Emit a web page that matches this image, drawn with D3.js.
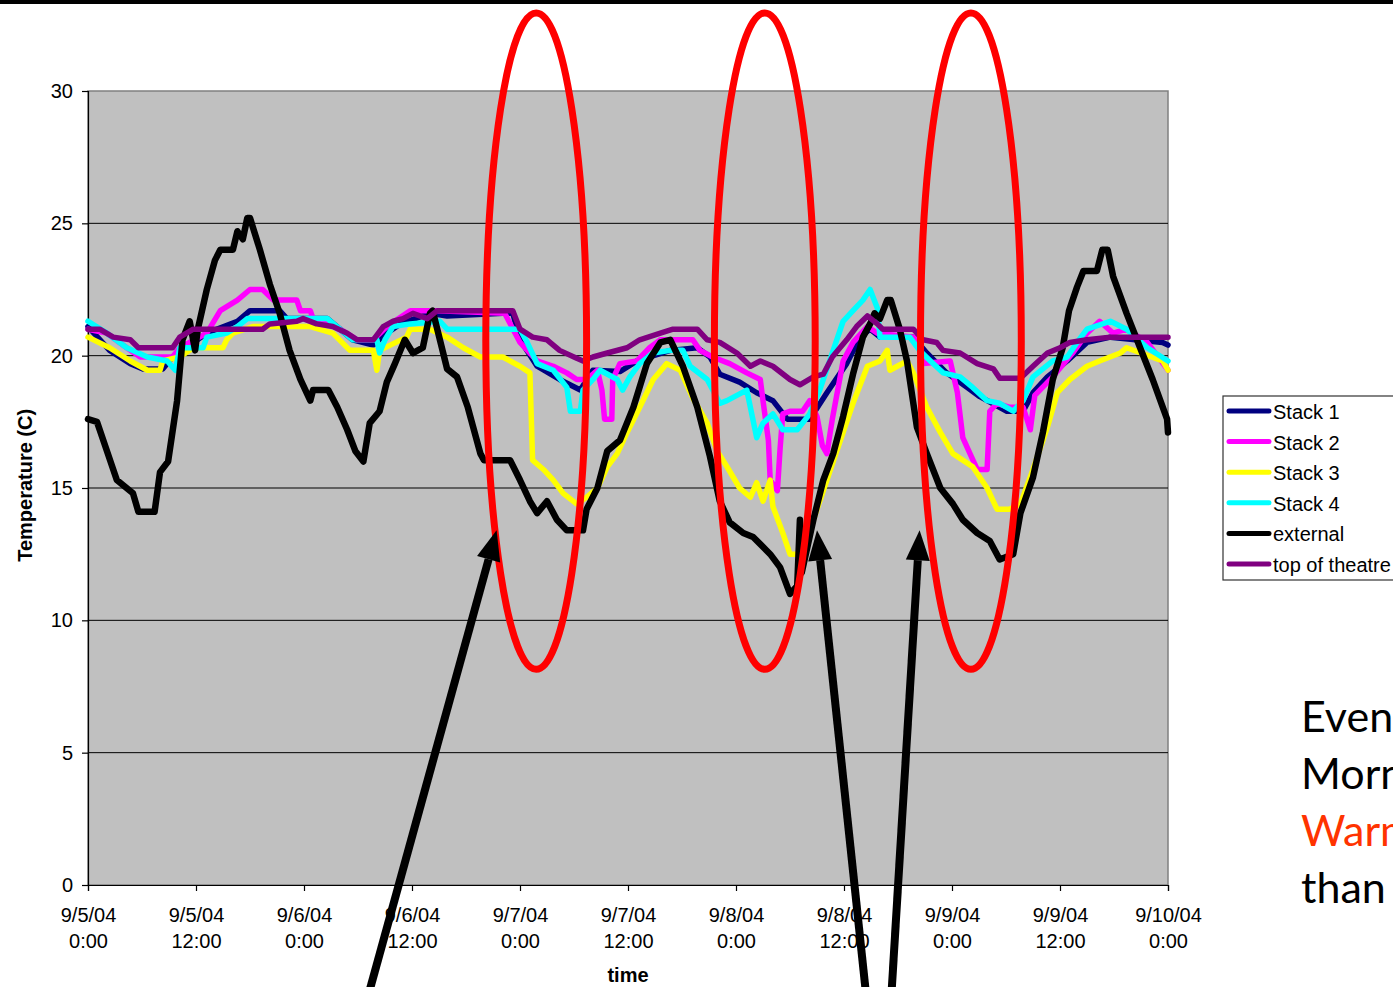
<!DOCTYPE html>
<html>
<head>
<meta charset="utf-8">
<script src="https://cdn.jsdelivr.net/npm/d3@7"></script>
<style>
  body { margin: 0; background: #fff; overflow: hidden; }
  svg { display: block; }
</style>
</head>
<body>
<svg id="svg" width="1393" height="987"></svg>
<script>
// x values are hours after 9/5/04 0:00, y values are degrees C
const tickHours = [0, 12, 24, 36, 48, 60, 72, 84, 96, 108, 120];
const tickDates = ['9/5/04', '9/5/04', '9/6/04', '9/6/04', '9/7/04', '9/7/04', '9/8/04', '9/8/04', '9/9/04', '9/9/04', '9/10/04'];
const tickTimes = ['0:00', '12:00', '0:00', '12:00', '0:00', '12:00', '0:00', '12:00', '0:00', '12:00', '0:00'];
const tempTicks = [0, 5, 10, 15, 20, 25, 30];

const seriesNames = ['Stack 1', 'Stack 2', 'Stack 3', 'Stack 4', 'external', 'top of theatre'];
const seriesColours = ['#000080', '#ff00ff', '#ffff00', '#00ffff', '#000000', '#800080'];

const stack1 = [[0,21.1],[2.4,20.2],[4.7,19.7],[6.1,19.5],[8.3,19.5],[9.4,19.95],[13.2,20.85],[16.6,21.3],[18,21.7],[21.3,21.7],[22.1,21.4],[26.6,21.4],[28,21.0],[29.4,20.6],[31.7,20.4],[33,20.8],[34.7,21.2],[38,21.6],[39.9,21.5],[46.1,21.6],[47.2,21.6],[48,20.6],[49.9,19.6],[52.4,19.1],[54.7,18.7],[56.1,19.45],[59.1,19.4],[61,19.8],[64.7,20.2],[67.7,20.3],[69.1,19.95],[70.2,19.3],[72.4,19.0],[74.3,18.6],[76.1,18.3],[77.7,17.6],[80.2,17.6],[82.1,18.6],[84.3,19.7],[85.8,20.7],[86.9,21.0],[88,20.7],[91.7,20.7],[93.2,20.1],[95.4,19.35],[97.7,18.8],[99.1,18.45],[102.1,17.9],[103.9,17.9],[105,18.6],[106.6,19.2],[108.8,19.8],[111,20.5],[113.6,20.7],[119.4,20.5],[120,20.4]];

const stack2 = [[0,21.0],[2.1,20.85],[4.3,20.3],[5.8,19.95],[9.4,19.95],[10.2,20.3],[13.2,20.85],[14.7,21.7],[16.6,22.1],[18,22.5],[19.4,22.5],[20.6,22.1],[23.2,22.1],[23.6,21.7],[24.7,21.7],[25,21.4],[26.6,21.3],[28,21.0],[29.9,20.6],[31.7,20.6],[33.2,21.1],[35.8,21.7],[38.8,21.7],[46.3,21.6],[48,20.5],[49.9,19.8],[51.7,19.6],[53.2,19.35],[54.3,19.1],[55.4,19.1],[56.6,19.45],[57.1,18.7],[57.4,17.6],[58.2,17.6],[58.3,19.1],[59.1,19.7],[61,19.8],[62.4,20.3],[63.6,20.6],[67.2,20.6],[68,20.2],[69.4,19.95],[71.3,19.7],[73.2,19.35],[74.7,19.1],[75,18.3],[75.6,16.8],[75.8,15.3],[76.6,14.9],[76.9,16.5],[77.2,17.8],[78,17.9],[79.4,17.9],[80.2,18.3],[81,17.7],[81.6,16.6],[82.1,16.3],[82.7,17.6],[83.9,19.8],[85,20.5],[86.6,21.1],[87.7,20.85],[91.7,20.7],[92.4,20.5],[92.8,19.7],[95.8,19.8],[96.6,18.6],[97.2,16.9],[98,16.3],[98.8,15.7],[99.9,15.7],[100.2,17.9],[101,18.2],[102.4,18.05],[103.9,18.05],[104.7,17.2],[105.2,18.5],[107.2,19.2],[109.4,20.1],[111,20.85],[112.4,21.3],[113.9,20.85],[115.4,21.0],[117.7,20.5],[120,19.45]];

const stack3 = [[0,20.7],[2.4,20.3],[4.7,19.8],[6.6,19.45],[8,19.45],[8.3,19.8],[10.2,19.95],[11.7,20.3],[15,20.3],[15.4,20.6],[16.1,20.85],[18.3,21.1],[24.7,21.1],[27.2,20.85],[29.1,20.2],[31.7,20.2],[32.1,19.45],[32.4,20.2],[35.4,20.7],[35.8,21.0],[38,21.0],[39.9,20.7],[41.7,20.3],[43.6,19.95],[46.1,19.95],[48,19.6],[49.1,19.35],[49.4,16.05],[50.6,15.7],[51.7,15.3],[52.8,14.8],[54.3,14.4],[55.4,14.65],[56.6,15.0],[57.7,15.8],[58.8,16.3],[59.9,17.1],[61.3,18.05],[62.8,19.1],[64.3,19.7],[65.8,19.45],[67.2,18.4],[68.8,17.45],[69.9,16.4],[71,15.8],[72.4,15.0],[73.6,14.65],[74.3,15.2],[75,14.5],[75.8,15.3],[76.1,14.3],[77.2,13.3],[78,12.5],[79.1,12.5],[80.2,13.3],[80.6,13.8],[82.1,15.3],[83.6,16.8],[85,18.2],[86.6,19.6],[88,19.8],[88.8,20.2],[89.1,19.45],[91,19.8],[91.7,19.35],[93.2,18.05],[94.7,17.1],[96.1,16.3],[98.3,15.8],[99.9,15.0],[101,14.2],[102.4,14.2],[103.6,14.4],[105,15.7],[106.6,17.3],[107.7,18.6],[109.1,19.1],[111,19.6],[112.4,19.8],[114.7,20.1],[115.4,20.3],[119.4,19.8],[120,19.45]];

const stack4 = [[0,21.3],[2.1,20.85],[4.3,20.3],[6.6,19.95],[8.8,19.8],[9.7,19.45],[10.2,20.3],[12.8,20.3],[13.2,20.7],[15.4,20.85],[16.6,21.1],[17.7,21.4],[26.6,21.4],[28,21.0],[29.4,20.6],[32.1,20.6],[32.4,20.1],[33,20.6],[33.9,21.1],[35.8,21.2],[39.1,21.3],[39.9,21.0],[48,21.0],[48.8,20.5],[49.9,19.7],[51.7,19.45],[53.2,18.8],[53.6,17.9],[54.7,17.9],[55,18.7],[56.1,19.1],[56.9,19.45],[58.8,19.1],[59.4,18.7],[60.2,19.2],[61.3,19.7],[62.8,20.1],[64.7,20.2],[66.1,20.2],[66.9,19.6],[68.8,19.1],[70.2,18.2],[71,18.3],[73.2,18.7],[74.3,16.9],[75,17.45],[76.1,17.8],[77.2,17.2],[78.8,17.2],[80.2,17.8],[81.3,18.7],[82.8,20.2],[83.9,21.3],[85,21.7],[86.1,22.1],[86.9,22.5],[87.7,21.8],[88,20.7],[91.3,20.7],[92.4,20.2],[93.6,19.8],[95,19.35],[96.9,19.2],[98.3,18.8],[99.9,18.3],[101.3,18.2],[102.8,17.9],[103.9,18.3],[105,19.2],[107.2,19.8],[108.8,19.95],[109.9,20.5],[111,21.0],[113.6,21.3],[115.4,21.0],[117.7,20.3],[120,19.8]];

const external = [[0,17.6],[1,17.5],[2,16.5],[3.2,15.3],[5,14.8],[5.6,14.1],[7.4,14.1],[8,15.6],[8.9,16.0],[9.9,18.3],[10.5,20.6],[11.3,21.3],[11.9,20.2],[12.2,21.0],[13.2,22.5],[14.1,23.6],[14.7,24.0],[16.1,24.0],[16.6,24.7],[17.2,24.4],[17.7,25.2],[18,25.2],[19.1,24.0],[20.2,22.7],[21.3,21.6],[22.4,20.2],[23.6,19.1],[24.7,18.3],[25,18.7],[26.7,18.7],[27.7,18.05],[28.8,17.2],[29.7,16.4],[30.6,16.0],[31.3,17.45],[32.4,17.9],[33.2,19.0],[34.1,19.7],[35.2,20.6],[36.1,20.1],[37.2,20.3],[38,21.6],[38.3,21.7],[39.9,19.5],[41,19.2],[42.2,18.05],[43.6,16.3],[44,16.05],[46.9,16.05],[48,15.3],[49.1,14.5],[49.9,14.05],[51,14.5],[52.1,13.8],[53.2,13.4],[55,13.4],[55.4,14.2],[56.6,15.0],[57.7,16.4],[59.1,16.8],[60.6,18.05],[62.1,19.7],[63.6,20.5],[64.7,20.6],[66.1,19.6],[67.7,18.05],[69.1,16.2],[70.2,14.5],[71.3,13.7],[72.8,13.3],[73.9,13.15],[75.8,12.5],[76.9,12.0],[78,11.0],[78.8,11.3],[79.1,13.8],[79.3,11.8],[80.6,13.8],[81.7,15.3],[82.8,16.3],[83.9,17.7],[85,19.3],[86.1,20.7],[86.9,21.2],[87.4,21.6],[88,21.4],[88.8,22.1],[89.2,22.1],[90.2,21.0],[91,19.8],[92.1,17.3],[93.2,16.3],[94.7,15.0],[96.1,14.4],[97.2,13.8],[98.8,13.3],[100.2,13.0],[101.3,12.3],[102.8,12.5],[103.6,14.05],[105,15.4],[106.1,17.1],[107.2,19.1],[108.3,20.3],[109,21.7],[109.9,22.6],[110.6,23.2],[112.1,23.2],[112.7,24.0],[113.3,24.0],[113.9,23.0],[115.4,21.6],[116.9,20.3],[118.3,19.1],[119.9,17.6],[120,17.1]];

const theatreTop = [[0,21.0],[1.3,21.0],[2.8,20.7],[4.7,20.6],[5.6,20.3],[9.4,20.3],[10.2,20.7],[11.7,21.0],[19.4,21.0],[20.2,21.2],[23.2,21.3],[23.9,21.4],[25.4,21.2],[27.2,21.1],[28.8,20.85],[29.9,20.6],[31.7,20.6],[32.8,21.1],[33.9,21.3],[35,21.4],[36.1,21.6],[37.7,21.4],[38.8,21.7],[47.2,21.7],[48,21.0],[49.4,20.7],[51,20.6],[52.4,20.2],[54.3,19.9],[55,19.8],[56.1,19.95],[57.7,20.1],[59.9,20.3],[61.3,20.6],[63.6,20.85],[65,21.0],[67.7,21.0],[68.8,20.6],[70.2,20.5],[72.1,20.1],[73.6,19.6],[74.7,19.8],[76.1,19.6],[78,19.1],[79.1,18.9],[80.6,19.2],[81.7,19.3],[82.7,19.95],[84.3,20.6],[85.4,21.1],[86.6,21.5],[87.7,21.2],[88.3,21.0],[91.7,21.0],[92.8,20.6],[94.3,20.5],[95,20.2],[96.9,20.1],[98.8,19.7],[100.6,19.5],[101.3,19.15],[103.6,19.15],[105,19.6],[106.6,20.1],[108,20.3],[109.1,20.5],[111,20.6],[113.6,20.7],[120,20.7]];

const seriesData = [stack1, stack2, stack3, stack4, external, theatreTop];

// slide annotations, in the same hour / degree units
const ringCentres = [49.8, 75.2, 98.1];
const ringCentreTemp = 20.55;
const ringHalfWidth = 5.6;
const ringHalfHeight = 12.4;
const arrowTails = [[31.3, -3.97], [86.4, -3.97], [89.3, -3.97]];
const arrowTips = [[45.4, 13.4], [81.0, 13.4], [92.4, 13.4]];

const noteLines = ['Evenings', 'Mornings', 'Warmer', 'than'];
const noteColours = ['#000000', '#000000', '#ff3300', '#000000'];

const svg = d3.select('#svg');
const font = '"Liberation Sans", Arial, sans-serif';

svg.append('rect').attr('x', 0).attr('y', 0).attr('width', 1393).attr('height', 4).attr('fill', '#000');

const x = d3.scaleLinear().domain([0, 120]).range([88, 1168]);
const y = d3.scaleLinear().domain([0, 30]).range([885, 91]);

// plot area
svg.append('rect')
  .attr('x', x(0)).attr('y', y(30))
  .attr('width', x(120) - x(0)).attr('height', y(0) - y(30))
  .attr('fill', '#c0c0c0')
  .attr('stroke', '#808080')
  .attr('stroke-width', 1.5);

svg.append('g').selectAll('line')
  .data(tempTicks.filter(t => t > 0 && t < 30))
  .join('line')
  .attr('x1', x(0)).attr('x2', x(120))
  .attr('y1', d => y(d)).attr('y2', d => y(d))
  .attr('stroke', '#000')
  .attr('stroke-width', 1);

const yAxis = d3.axisLeft(y).tickValues(tempTicks).tickSize(6).tickPadding(9);
const yAxisG = svg.append('g').attr('transform', `translate(${x(0)},0)`).call(yAxis);
yAxisG.selectAll('text').style('font-family', font).style('font-size', '20px').attr('fill', '#000');
yAxisG.selectAll('line, path').attr('stroke', '#000').attr('stroke-width', 1.2);

const xAxis = d3.axisBottom(x).tickValues(tickHours).tickSize(6).tickFormat(() => '');
const xAxisG = svg.append('g').attr('transform', `translate(0,${y(0)})`).call(xAxis);
xAxisG.selectAll('line, path').attr('stroke', '#000').attr('stroke-width', 1.2);
xAxisG.selectAll('.tick text')
  .attr('y', 0).attr('dy', null)
  .style('font-family', font).style('font-size', '20px').attr('fill', '#000')
  .each(function(d, i) {
    const t = d3.select(this);
    t.append('tspan').attr('x', 0).attr('y', 37).text(tickDates[i]);
    t.append('tspan').attr('x', 0).attr('y', 63).text(tickTimes[i]);
  });

svg.append('text')
  .attr('x', (x(0) + x(120)) / 2).attr('y', 982)
  .attr('text-anchor', 'middle')
  .style('font-family', font).style('font-size', '20px').style('font-weight', 'bold')
  .text('time');

svg.append('text')
  .attr('transform', `translate(32,${y(15.1)}) rotate(-90)`)
  .attr('text-anchor', 'middle')
  .style('font-family', font).style('font-size', '20px').style('font-weight', 'bold')
  .text('Temperature (C)');

// series
const line = d3.line().x(d => x(d[0])).y(d => y(d[1]));

svg.append('g').selectAll('path')
  .data(seriesData)
  .join('path')
  .attr('d', line)
  .attr('fill', 'none')
  .attr('stroke', (d, i) => seriesColours[i])
  .attr('stroke-width', (d, i) => seriesNames[i] === 'external' ? 6.5 : 5.5)
  .attr('stroke-linejoin', 'round')
  .attr('stroke-linecap', 'round');

// legend
const legend = svg.append('g').attr('transform', 'translate(1223,396)');
legend.append('rect')
  .attr('x', 0).attr('y', 0).attr('width', 220).attr('height', 184)
  .attr('fill', '#fff').attr('stroke', '#333').attr('stroke-width', 1.2);
const items = legend.selectAll('g.item')
  .data(seriesNames)
  .join('g')
  .attr('class', 'item')
  .attr('transform', (d, i) => `translate(0,${15 + i * 30.6})`);
items.append('line')
  .attr('x1', 6).attr('x2', 46).attr('y1', 0).attr('y2', 0)
  .attr('stroke', (d, i) => seriesColours[i])
  .attr('stroke-width', 5)
  .attr('stroke-linecap', 'round');
items.append('text')
  .attr('x', 50).attr('y', 8)
  .style('font-family', font).style('font-size', '20px')
  .text(d => d);

// red rings
svg.append('g').selectAll('ellipse')
  .data(ringCentres)
  .join('ellipse')
  .attr('cx', d => x(d))
  .attr('cy', y(ringCentreTemp))
  .attr('rx', x(ringHalfWidth) - x(0))
  .attr('ry', y(0) - y(ringHalfHeight))
  .attr('fill', 'none')
  .attr('stroke', '#ff0000')
  .attr('stroke-width', 7);

// arrows
const arrows = svg.append('g');
arrowTails.forEach((tail, i) => {
  const tip = arrowTips[i];
  const x0 = x(tail[0]), y0 = y(tail[1]);
  const x1 = x(tip[0]), y1 = y(tip[1]);
  const ang = Math.atan2(y1 - y0, x1 - x0);
  const headLen = 30, headHalf = 12;
  const bx = x1 - headLen * Math.cos(ang), by = y1 - headLen * Math.sin(ang);
  arrows.append('line')
    .attr('x1', x0).attr('y1', y0).attr('x2', bx).attr('y2', by)
    .attr('stroke', '#000').attr('stroke-width', 8);
  const px = -Math.sin(ang) * headHalf, py = Math.cos(ang) * headHalf;
  arrows.append('path')
    .attr('d', `M${x1},${y1}L${bx + px},${by + py}L${bx - px},${by - py}Z`)
    .attr('fill', '#000');
});

// side note, clipped by the window edge as on the slide
svg.append('g').selectAll('text')
  .data(noteLines)
  .join('text')
  .attr('x', 1301)
  .attr('y', (d, i) => 732 + i * 57)
  .attr('fill', (d, i) => noteColours[i])
  .style('font-family', 'Lato, "Open Sans", sans-serif')
  .style('font-size', '43px')
  .text(d => d);
</script>
</body>
</html>
